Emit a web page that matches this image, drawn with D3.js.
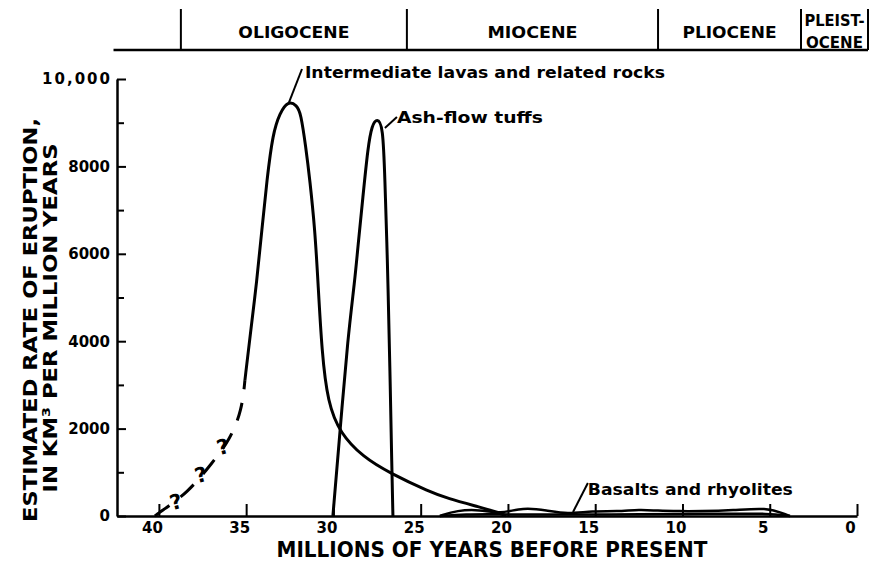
<!DOCTYPE html>
<html>
<head>
<meta charset="utf-8">
<script src="https://cdn.jsdelivr.net/npm/d3@7"></script>
<style>
  body { margin: 0; background: #fff; }
  svg { display: block; }
  text { font-family: "DejaVu Sans", sans-serif; font-weight: bold; fill: #000; }
</style>
</head>
<body>
<svg id="chart" width="870" height="561"></svg>
<script>
'use strict';

// intermediate lavas and related rocks (age in Ma, rate in km3 per Myr)
var lavaAge  = [40.23, 39.94, 38.34, 36.96, 35.93, 35.24, 35.07, 34.78, 34.38, 34.1, 33.81, 33.47, 33.07, 32.61, 32.09, 31.87, 31.58, 31.35, 31.06, 30.89, 30.66, 30.32, 29.63, 28.31, 26.76, 24.47, 23.5, 21.6, 20.46, 20.11];
var lavaRate = [0, 90, 530, 1210, 1740, 2430, 3110, 4100, 5400, 6550, 7690, 8760, 9220, 9500, 9400, 9220, 8440, 7690, 6550, 5400, 3730, 2590, 1900, 1350, 980, 550, 410, 200, 70, 0];
var lavaDashedUntil = 6; // first points are the queried (dashed) part

// ash-flow tuffs
var ashAge  = [30.03, 29.63, 29.17, 28.77, 28.6, 28.31, 28.02, 27.79, 27.5, 27.16, 27.05, 26.93, 26.88, 26.76, 26.65, 26.59];
var ashRate = [0, 1900, 4100, 5400, 6150, 7300, 8450, 8950, 9100, 8950, 7690, 6150, 5400, 3340, 1050, 0];

// basalts and rhyolites
var basaltAge  = [23.9, 22.92, 21.6, 20.46, 19.14, 17.77, 16.62, 15.13, 13.75, 12.44, 11.46, 10.14, 9.0, 7.1, 5.16, 4.24, 3.84];
var basaltRate = [0, 130, 150, 40, 200, 130, 40, 120, 100, 150, 120, 110, 110, 130, 190, 60, 0];
var basaltLowAge  = [23.9, 22.5, 20.46, 18.5, 16.62, 14.5, 12.44, 10.14, 7.1, 5.16, 3.84];
var basaltLowRate = [0, 40, 40, 30, 40, 30, 40, 50, 50, 60, 0];

// question marks on the dashed part
var queryAge  = [38.91, 37.48, 36.22];
var queryRate = [320, 940, 1580];

// curve labels
var labelText  = ['Intermediate lavas and related rocks', 'Ash-flow tuffs', 'Basalts and rhyolites'];
var labelAge   = [31.63, 26.36, 15.42];
var labelRate  = [10023, 8993, 480];
var labelWidth = [360, 146, 205];
var leaderFromAge  = [31.8, 26.36, 15.42];
var leaderFromRate = [10229, 9130, 755];
var leaderToAge    = [32.55, 27.05, 16.27];
var leaderToRate   = [9460, 8879, 92];

// epochs
var epochNames  = ['OLIGOCENE', 'MIOCENE', 'PLIOCENE', 'PLEIST-|OCENE'];
var epochWidth  = [111, 90, 94, 0];
var epochBounds = [38.74, 25.79, 11.4, 3.21, -0.63];

var xTicks = [40, 35, 30, 25, 20, 15, 10, 5, 0];
var yMajor = [0, 2000, 4000, 6000, 8000, 10000];
var yMinor = [1000, 3000, 5000, 7000, 9000];

var svg = d3.select('#chart');

var x = d3.scaleLinear().domain([42.4, 0]).range([117, 857]);
var y = d3.scaleLinear().domain([0, 10000]).range([516, 79]);

function zip(a, b) {
  return a.map(function (d, i) { return [d, b[i]]; });
}

var line = d3.line()
  .x(function (d) { return x(d[0]); })
  .y(function (d) { return y(d[1]); })
  .curve(d3.curveBasis);

// axes
var yAxis = svg.append('g')
  .attr('transform', 'translate(' + x(42.4) + ',0)')
  .call(d3.axisLeft(y).tickValues(yMajor).tickSize(-9).tickSizeOuter(0).tickPadding(7)
    .tickFormat(function (d) { return d === 10000 ? '10,000' : d; }));
svg.append('g')
  .attr('transform', 'translate(' + x(42.4) + ',0)')
  .call(d3.axisLeft(y).tickValues(yMinor).tickSize(-7).tickSizeOuter(0).tickFormat(''))
  .select('.domain').remove();

var xAxis = svg.append('g')
  .attr('transform', 'translate(0,' + y(0) + ')')
  .call(d3.axisBottom(x).tickValues(xTicks).tickSize(-12).tickSizeOuter(0).tickPadding(6));
// hand lettering sits a little left of each tick
xAxis.selectAll('.tick text').attr('dx', -7);

svg.selectAll('.domain').attr('stroke', '#000').attr('stroke-width', 2.5);
svg.selectAll('.tick line').attr('stroke', '#000').attr('stroke-width', 2);
svg.selectAll('.tick text').style('font-size', '15px').style('font-family', '"DejaVu Sans", sans-serif').style('font-weight', 'bold');
yAxis.selectAll('.tick text')
  .filter(function (d) { return d === 10000; })
  .attr('textLength', 68).attr('lengthAdjust', 'spacing');

// axis titles
svg.append('text')
  .attr('transform', 'translate(' + 37 + ',' + 320 + ') rotate(-90)')
  .attr('text-anchor', 'middle')
  .attr('textLength', 404).attr('lengthAdjust', 'spacingAndGlyphs')
  .style('font-size', '20px')
  .text('ESTIMATED RATE OF ERUPTION,');
svg.append('text')
  .attr('transform', 'translate(' + 57 + ',' + 318 + ') rotate(-90)')
  .attr('text-anchor', 'middle')
  .attr('textLength', 349).attr('lengthAdjust', 'spacingAndGlyphs')
  .style('font-size', '20px')
  .text('IN KM³ PER MILLION YEARS');
svg.append('text')
  .attr('x', 492).attr('y', 557)
  .attr('text-anchor', 'middle')
  .attr('textLength', 431).attr('lengthAdjust', 'spacingAndGlyphs')
  .style('font-size', '21px')
  .text('MILLIONS OF YEARS BEFORE PRESENT');

// epoch bar
svg.append('line')
  .attr('x1', x(42.6)).attr('x2', x(epochBounds[epochBounds.length - 1]))
  .attr('y1', 50).attr('y2', 50)
  .attr('stroke', '#000').attr('stroke-width', 2.5);
svg.selectAll('.epoch-div').data(epochBounds).enter().append('line')
  .attr('x1', function (d) { return x(d); }).attr('x2', function (d) { return x(d); })
  .attr('y1', 9).attr('y2', 50)
  .attr('stroke', '#000').attr('stroke-width', 2);
epochNames.forEach(function (name, i) {
  var cx = (x(epochBounds[i]) + x(epochBounds[i + 1])) / 2;
  var parts = name.split('|');
  if (parts.length === 1) {
    svg.append('text')
      .attr('x', cx).attr('y', 38)
      .attr('text-anchor', 'middle')
      .attr('textLength', epochWidth[i]).attr('lengthAdjust', 'spacingAndGlyphs')
      .style('font-size', '16px')
      .text(name);
  } else {
    parts.forEach(function (p, j) {
      svg.append('text')
        .attr('x', cx).attr('y', 26 + j * 22)
        .attr('text-anchor', 'middle')
        .attr('textLength', j === 0 ? 60 : 57).attr('lengthAdjust', 'spacingAndGlyphs')
        .style('font-size', '16px')
        .text(p);
    });
  }
});

// curves
var lava = zip(lavaAge, lavaRate);
svg.append('path')
  .datum(lava.slice(0, lavaDashedUntil + 1))
  .attr('d', line)
  .attr('fill', 'none').attr('stroke', '#000').attr('stroke-width', 3)
  .attr('stroke-dasharray', '18,14');
svg.append('path')
  .datum(lava.slice(lavaDashedUntil))
  .attr('d', line)
  .attr('fill', 'none').attr('stroke', '#000').attr('stroke-width', 3);

svg.append('path')
  .datum(zip(ashAge, ashRate))
  .attr('d', line)
  .attr('fill', 'none').attr('stroke', '#000').attr('stroke-width', 3);

svg.append('path')
  .datum(zip(basaltAge, basaltRate))
  .attr('d', line)
  .attr('fill', 'none').attr('stroke', '#000').attr('stroke-width', 2.5);
svg.append('path')
  .datum(zip(basaltLowAge, basaltLowRate))
  .attr('d', line)
  .attr('fill', 'none').attr('stroke', '#000').attr('stroke-width', 2.5);

svg.selectAll('.query').data(queryAge).enter().append('text')
  .attr('transform', function (d, i) {
    return 'translate(' + x(d) + ',' + (y(queryRate[i]) + 7) + ') rotate(-15)';
  })
  .attr('text-anchor', 'middle')
  .style('font-size', '21px')
  .text('?');

// labels with leaders
labelText.forEach(function (t, i) {
  svg.append('line')
    .attr('x1', x(leaderFromAge[i])).attr('y1', y(leaderFromRate[i]))
    .attr('x2', x(leaderToAge[i])).attr('y2', y(leaderToRate[i]))
    .attr('stroke', '#000').attr('stroke-width', 2);
  svg.append('text')
    .attr('x', x(labelAge[i])).attr('y', y(labelRate[i]))
    .attr('textLength', labelWidth[i]).attr('lengthAdjust', 'spacingAndGlyphs')
    .style('font-size', '15px')
    .text(t);
});
</script>
</body>
</html>
